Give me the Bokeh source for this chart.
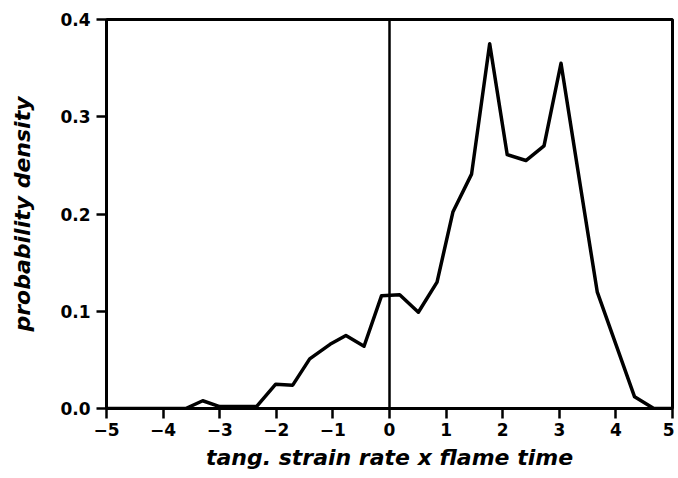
from bokeh.plotting import figure
from bokeh.models import FixedTicker, Span, Range1d
from bokeh.embed import file_html
from bokeh.resources import INLINE

# data
x_vals = [-5.0, -3.6, -3.30, -3.0, -2.35, -2.01, -1.71, -1.41, -1.05, -0.77, -0.45, -0.14,
          0.18, 0.51, 0.84, 1.12, 1.45, 1.77, 2.08, 2.41, 2.73, 3.03, 3.35, 3.67, 4.0, 4.33, 4.67, 5.0]
density = [0.0, 0.0, 0.008, 0.002, 0.002, 0.025, 0.024, 0.051, 0.066, 0.075, 0.064, 0.116,
           0.117, 0.099, 0.130, 0.202, 0.241, 0.375, 0.261, 0.255, 0.270, 0.355, 0.237, 0.120, 0.066, 0.012, 0.0, 0.0]
x_ticks = [-5, -4, -3, -2, -1, 0, 1, 2, 3, 4, 5]
x_tick_labels = ["\u22125", "\u22124", "\u22123", "\u22122", "\u22121", "0", "1", "2", "3", "4", "5"]
y_ticks = [0.0, 0.1, 0.2, 0.3, 0.4]
y_tick_labels = ["0.0", "0.1", "0.2", "0.3", "0.4"]

p = figure(width=674, height=478, output_backend="svg", toolbar_location=None,
           x_range=Range1d(-5, 5), y_range=Range1d(0, 0.4),
           min_border_left=106, min_border_right=2, min_border_top=19, min_border_bottom=70)
p.background_fill_color = "white"
p.border_fill_color = "white"
p.outline_line_color = "black"
p.outline_line_width = 3
p.grid.visible = False

p.line(x_vals, density, line_color="black", line_width=3.5, line_join="round")
p.add_layout(Span(location=0, dimension="height", line_color="black", line_width=2.5))

font = "DejaVu Sans"
p.xaxis.ticker = FixedTicker(ticks=x_ticks)
p.xaxis.major_label_overrides = {t: l for t, l in zip(x_ticks, x_tick_labels)}
p.yaxis.ticker = FixedTicker(ticks=y_ticks)
p.yaxis.major_label_overrides = {t: l for t, l in zip(y_ticks, y_tick_labels)}

for ax in (p.xaxis, p.yaxis):
    ax.axis_line_width = 3
    ax.major_tick_line_width = 2.5
    ax.major_tick_out = 10
    ax.major_tick_in = 0
    ax.minor_tick_out = 0
    ax.minor_tick_in = 0
    ax.major_label_text_font = font
    ax.major_label_text_font_style = "bold"
    ax.major_label_text_font_size = "17px"
    ax.major_label_text_color = "black"
    ax.axis_label_text_font = font
    ax.axis_label_text_font_style = "bold italic"
    ax.axis_label_text_font_size = "22px"
    ax.axis_label_text_color = "black"

p.xaxis.axis_label = "tang. strain rate x flame time"
p.yaxis.axis_label = "probability density"
p.xaxis.major_label_standoff = 4
p.yaxis.major_label_standoff = 6
p.xaxis.axis_label_standoff = 6
p.yaxis.axis_label_standoff = 22

open("out.html", "w").write(file_html(p, INLINE))
